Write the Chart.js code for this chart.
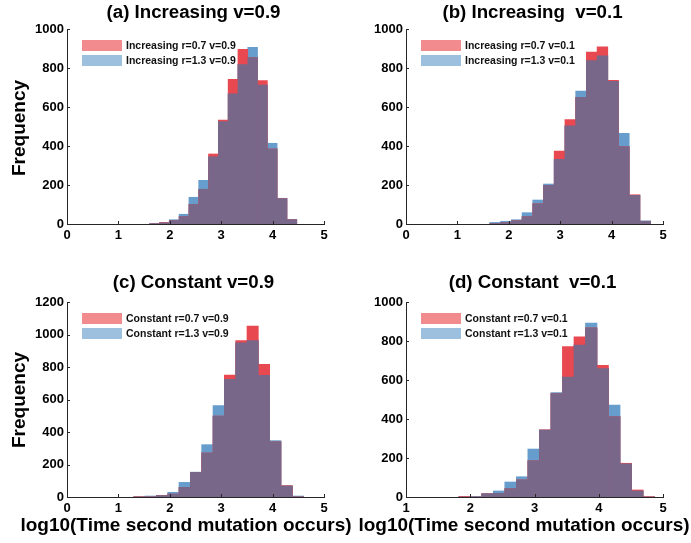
<!DOCTYPE html>
<html>
<head>
<meta charset="utf-8">
<script src="https://cdn.jsdelivr.net/npm/chart.js@4.4.1/dist/chart.umd.min.js"></script>
<style>
  body { margin: 0; background: #fff; width: 691px; height: 543px; position: relative; overflow: hidden;
         font-family: "Liberation Sans", Arial, sans-serif; }
  canvas { position: absolute; }
  .lbl { position: absolute; font-weight: bold; font-size: 19px; color: #000; white-space: nowrap;
         transform: translate(-50%, -50%); }
  .rot { transform: translate(-50%, -50%) rotate(-90deg); }
</style>
</head>
<body>
<canvas id="chartA" width="345" height="250" style="left:0;top:0"></canvas>
<canvas id="chartB" width="346" height="250" style="left:345px;top:0"></canvas>
<canvas id="chartC" width="345" height="293" style="left:0;top:250px"></canvas>
<canvas id="chartD" width="346" height="293" style="left:345px;top:250px"></canvas>

<div class="lbl rot" style="left:19px;top:128px">Frequency</div>
<div class="lbl rot" style="left:19px;top:400px">Frequency</div>
<div class="lbl" style="left:186px;top:525px">log10(Time second mutation occurs)</div>
<div class="lbl" style="left:524px;top:525px">log10(Time second mutation occurs)</div>

<script>
// bin centres and counts
const incV09Bins = [1.703, 1.894, 2.085, 2.276, 2.467, 2.657, 2.848, 3.039, 3.230, 3.421, 3.612, 3.803, 3.993, 4.184, 4.375];
const incV09R07  = [1, 8, 18, 38, 100, 178, 359, 533, 742, 896, 853, 735, 385, 130, 22];
const incV09R13  = [3, 6, 22, 50, 137, 224, 345, 525, 667, 817, 906, 713, 414, 132, 24];

const incV01Bins = [1.736, 1.945, 2.153, 2.362, 2.570, 2.779, 2.987, 3.196, 3.405, 3.613, 3.822, 4.030, 4.239, 4.447, 4.656];
const incV01R07  = [3, 7, 17, 38, 104, 198, 374, 535, 650, 882, 908, 737, 397, 150, 14];
const incV01R13  = [8, 14, 22, 58, 123, 205, 332, 504, 682, 838, 863, 732, 465, 147, 16];

const conV09Bins = [1.407, 1.628, 1.848, 2.069, 2.289, 2.510, 2.730, 2.951, 3.171, 3.392, 3.612, 3.833, 4.053, 4.274, 4.494];
const conV09R07  = [2, 1, 10, 18, 59, 152, 271, 498, 751, 962, 1052, 816, 340, 70, 1];
const conV09R13  = [1, 6, 9, 29, 90, 153, 322, 562, 724, 948, 962, 749, 347, 68, 6];

const conV01Bins = [1.910, 2.089, 2.268, 2.448, 2.627, 2.807, 2.986, 3.165, 3.345, 3.524, 3.704, 3.883, 4.062, 4.242, 4.421, 4.601, 4.780];
const conV01R07  = [3, 0, 17, 19, 43, 88, 186, 345, 531, 771, 822, 867, 675, 412, 173, 36, 2];
const conV01R13  = [0, 3, 17, 31, 77, 104, 246, 343, 535, 615, 779, 892, 658, 472, 170, 31, 0];

const RED = 'rgb(232,72,80)';
const BLUE = 'rgb(102,157,204)';
const PURPLE = 'rgb(120,103,137)';
const RED_PATCH = 'rgb(242,139,142)';
const BLUE_PATCH = 'rgb(157,192,222)';
const FONT = '"Liberation Sans", Arial, sans-serif';

// panel title, legend inside the axes and small inward tick marks
const panelDecor = {
  id: 'panelDecor',
  afterDatasetsDraw(chart, args, opts) {
    const { ctx, chartArea: a } = chart;
    ctx.save();
    ctx.fillStyle = '#000';
    ctx.font = 'bold 18.7px ' + FONT;
    ctx.textAlign = 'center';
    ctx.textBaseline = 'middle';
    ctx.fillText(opts.title, (a.left + a.right) / 2 - 2, a.top - opts.titleGap);

    let i = 0;
    chart.data.datasets.forEach(ds => {
      if (!ds.patch) return;
      const y = a.top + 11 + i * 15;
      ctx.fillStyle = ds.patch;
      ctx.fillRect(a.left + 15, y, 40, 11);
      ctx.fillStyle = '#111';
      ctx.font = 'bold 10.5px ' + FONT;
      ctx.textAlign = 'left';
      ctx.fillText(ds.label, a.left + 59, y + 6);
      i++;
    });

    ctx.strokeStyle = '#262626';
    ctx.lineWidth = 1;
    const xs = chart.scales.x, ys = chart.scales.y;
    ctx.beginPath();
    xs.ticks.forEach(t => {
      const px = Math.round(xs.getPixelForValue(t.value)) + 0.5;
      ctx.moveTo(px, a.bottom); ctx.lineTo(px, a.bottom - 3);
    });
    ys.ticks.forEach(t => {
      const py = Math.round(ys.getPixelForValue(t.value)) + 0.5;
      ctx.moveTo(a.left, py); ctx.lineTo(a.left + 3, py);
    });
    ctx.stroke();
    ctx.restore();
  }
};

function makePanel(id, p) {
  const pts = arr => p.bins.map((x, i) => ({ x: x, y: arr[i] }));
  const overlap = p.bins.map((x, i) => ({ x: x, y: Math.min(p.r07[i], p.r13[i]) }));
  new Chart(document.getElementById(id), {
    type: 'bar',
    data: {
      datasets: [
        { label: 'overlap', data: overlap, backgroundColor: PURPLE, order: 0 },
        { label: p.name + ' r=0.7 v=' + p.v, data: pts(p.r07), backgroundColor: RED, patch: RED_PATCH, order: 1 },
        { label: p.name + ' r=1.3 v=' + p.v, data: pts(p.r13), backgroundColor: BLUE, patch: BLUE_PATCH, order: 2 }
      ]
    },
    options: {
      responsive: false,
      animation: false,
      events: [],
      layout: { padding: { left: 0, right: p.padRight, top: p.padTop, bottom: 0 } },
      datasets: { bar: { grouped: false, barPercentage: 1, categoryPercentage: 1, borderWidth: 0 } },
      plugins: {
        legend: { display: false },
        tooltip: { enabled: false },
        title: { display: false },
        panelDecor: { title: p.title, titleGap: p.titleGap }
      },
      scales: {
        x: {
          type: 'linear',
          offset: false,
          min: p.xMin, max: 5,
          grid: { display: false, drawTicks: false },
          border: { display: true, color: '#262626', width: 1 },
          ticks: { stepSize: 1, padding: 4, color: '#000', font: { family: FONT, size: 13, weight: 'bold' },
                   callback: v => String(v) },
          afterFit: s => { s.height = p.xHeight; }
        },
        y: {
          min: 0, max: p.yMax,
          grid: { display: false, drawTicks: false },
          border: { display: true, color: '#262626', width: 1 },
          ticks: { stepSize: 200, padding: 3, color: '#000', font: { family: FONT, size: 13, weight: 'bold' },
                   callback: v => String(v) },
          afterFit: s => { s.width = p.yWidth; }
        }
      }
    },
    plugins: [panelDecor]
  });
}

makePanel('chartA', { title: '(a) Increasing v=0.9', name: 'Increasing', v: '0.9',
  bins: incV09Bins, r07: incV09R07, r13: incV09R13, xMin: 0, yMax: 1000,
  yWidth: 67, padRight: 21, padTop: 29, xHeight: 26, titleGap: 16 });
makePanel('chartB', { title: '(b) Increasing  v=0.1', name: 'Increasing', v: '0.1',
  bins: incV01Bins, r07: incV01R07, r13: incV01R13, xMin: 0, yMax: 1000,
  yWidth: 61, padRight: 28, padTop: 29, xHeight: 26, titleGap: 16 });
makePanel('chartC', { title: '(c) Constant v=0.9', name: 'Constant', v: '0.9',
  bins: conV09Bins, r07: conV09R07, r13: conV09R13, xMin: 0, yMax: 1200,
  yWidth: 67, padRight: 21, padTop: 52, xHeight: 46, titleGap: 19 });
makePanel('chartD', { title: '(d) Constant  v=0.1', name: 'Constant', v: '0.1',
  bins: conV01Bins, r07: conV01R07, r13: conV01R13, xMin: 1, yMax: 1000,
  yWidth: 61, padRight: 28, padTop: 52, xHeight: 46, titleGap: 19 });
</script>
</body>
</html>
